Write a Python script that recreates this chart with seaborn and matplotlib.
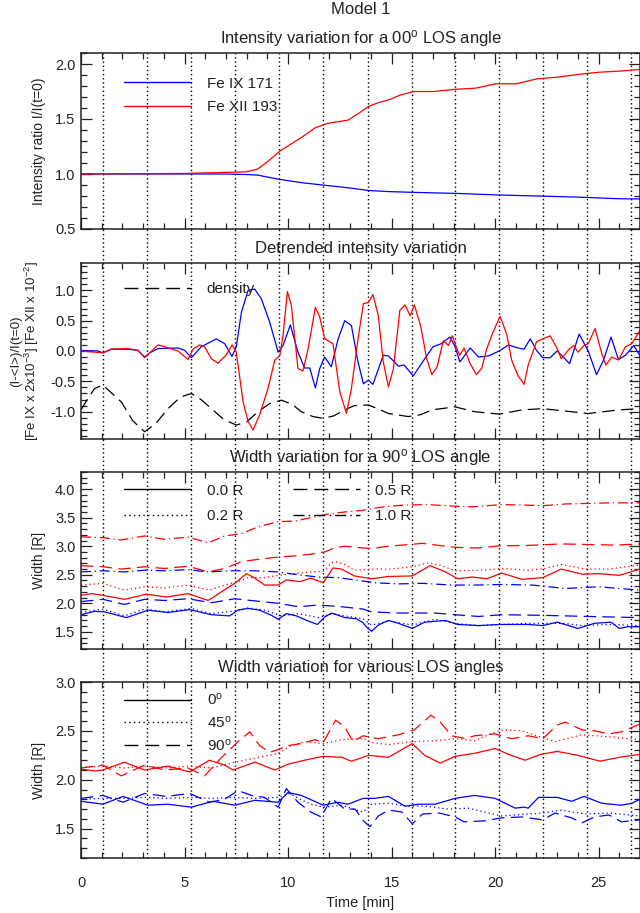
import matplotlib
matplotlib.use("Agg")
import matplotlib.pyplot as plt
from matplotlib.lines import Line2D
from matplotlib.ticker import MultipleLocator, FormatStrFormatter
import seaborn as sns

# ---------------- data (time in minutes) ----------------
grid_t = [1.06, 3.2, 5.33, 7.45, 9.58, 11.71, 13.85, 15.97, 18.07, 20.19, 22.33, 24.46, 26.57]

# Panel 1: intensity ratio
p1_red_t = [0, 5, 7, 8, 8.53, 9.03, 9.62, 10.12, 10.71, 11.31, 11.9, 12.9, 13.4, 13.9, 14.38, 14.88,
            15.38, 16.07, 17.06, 18.06, 19.05, 20.04, 21.03, 22.02, 23.0, 24.0, 25.0, 26.0, 27.0]
p1_red_v = [1.0, 1.005, 1.015, 1.02, 1.045, 1.115, 1.21, 1.27, 1.34, 1.42, 1.46, 1.49, 1.55, 1.615, 1.65, 1.675,
            1.715, 1.75, 1.75, 1.77, 1.78, 1.82, 1.82, 1.865, 1.88, 1.905, 1.925, 1.935, 1.95]
p1_blue_t = [0, 5, 7, 8.0, 8.53, 9.62, 10.71, 11.9, 12.9, 13.9, 14.88, 16.07, 18.06, 20.04, 22.02, 24.0, 26.0, 27.0]
p1_blue_v = [1.0, 1.0, 1.0, 0.995, 0.99, 0.95, 0.92, 0.895, 0.875, 0.85, 0.84, 0.833, 0.824, 0.81, 0.80, 0.79, 0.775, 0.773]

# Panel 2: detrended intensity
p2_blue_t = [0, 0.82, 1.06, 1.47, 2.27, 2.75, 3.07, 3.32, 3.72, 4.69, 5.01, 5.33, 5.81, 6.54, 6.94, 7.29, 7.5,
             7.75, 8.07, 8.39, 8.71, 9.11, 9.52, 9.76, 10.11, 10.48, 10.8, 11.05, 11.32, 11.53, 11.77, 12.09,
             12.42, 12.74, 13.06, 13.38, 13.64, 13.88, 14.1, 14.6, 14.85, 15.33, 15.6, 16.05, 16.6, 17.0, 17.4,
             17.82, 18.07, 18.3, 18.8, 19.2, 19.68, 20.2, 20.65, 21.1, 21.4, 21.7, 22.0, 22.3, 22.66, 23.0,
             23.3, 23.6, 24.06, 24.5, 24.9, 25.24, 25.6, 25.96, 26.3, 26.7, 27.0]
p2_blue_v = [0.01, 0.0, -0.03, 0.03, 0.03, 0.01, -0.1, -0.03, 0.04, 0.05, 0.01, -0.11, 0.07, 0.2, 0.12, -0.09, 0.07,
             0.64, 1.0, 1.02, 0.86, 0.48, -0.02, 0.09, 0.43, -0.02, -0.28, -0.28, -0.61, -0.29, -0.1, -0.26,
             0.2, 0.5, 0.42, -0.18, -0.54, -0.48, -0.55, -0.07, -0.08, -0.25, -0.23, -0.41, -0.13, 0.07, 0.12,
             0.23, 0.07, -0.18, 0.05, -0.1, -0.08, 0.0, 0.1, 0.05, 0.03, 0.2, 0.01, -0.11, -0.11, 0.0,
             -0.1, -0.21, 0.28, 0.0, -0.39, -0.15, 0.23, -0.14, -0.07, 0.09, -0.08]
p2_red_t = [0, 1.06, 1.47, 2.27, 2.75, 3.07, 3.72, 4.04, 4.69, 5.17, 5.41, 5.73, 5.97, 6.3, 6.62, 7.0, 7.3, 7.5,
            7.83, 8.07, 8.31, 8.63, 9.03, 9.36, 9.6, 9.76, 9.97, 10.16, 10.48, 10.72, 10.97, 11.32, 11.53, 11.77,
            12.17, 12.5, 12.82, 13.06, 13.38, 13.64, 13.88, 14.1, 14.36, 14.6, 14.85, 15.09, 15.4, 15.65, 15.9,
            16.1, 16.4, 16.7, 16.95, 17.2, 17.5, 17.75, 17.94, 18.15, 18.3, 18.5, 18.8, 19.1, 19.36, 19.6, 19.9,
            20.24, 20.56, 20.8, 21.1, 21.4, 21.6, 22.0, 22.3, 22.66, 23.0, 23.2, 23.6, 23.8, 24.0, 24.3, 24.5,
            24.83, 25.15, 25.35, 25.64, 25.96, 26.3, 26.6, 27.0]
p2_red_v = [0.0, -0.03, 0.03, 0.04, 0.01, -0.11, 0.1, 0.07, 0.0, -0.14, 0.03, 0.1, 0.07, -0.13, -0.2, -0.07, 0.1, -0.02,
            -0.84, -1.16, -1.3, -1.05, -0.62, -0.15, -0.08, 0.26, 0.98, 0.75, -0.29, -0.33, 0.04, 0.72, 0.56, 0.2,
            0.12, -0.67, -1.03, -0.62, 0.2, 0.78, 0.8, 0.93, 0.58, -0.18, -0.59, -0.29, 0.67, 0.76, 0.58,
            0.76, 0.42, -0.13, -0.39, -0.26, 0.17, 0.09, 0.25, 0.04, -0.07, 0.05, -0.21, -0.39, -0.28, 0.04, 0.31,
            0.57, 0.28, -0.15, -0.4, -0.55, -0.23, 0.15, 0.2, 0.25, 0.04, -0.13, 0.04, 0.09, -0.02, 0.09, 0.12,
            0.37, -0.04, -0.23, -0.1, -0.15, 0.07, 0.12, 0.34]
p2_dens_t = [0, 0.3, 0.65, 1.06, 1.5, 1.95, 2.5, 3.07, 3.6, 4.2, 4.8, 5.33, 5.8, 6.3, 6.9, 7.5, 8.0, 8.55, 9.1,
             9.68, 10.2, 10.64, 11.2, 11.7, 12.2, 12.74, 13.2, 13.88, 14.4, 14.85, 15.8, 16.4, 16.95, 18.07,
             19.0, 20.2, 21.3, 22.3, 23.4, 24.5, 26.0, 27.0]
p2_dens_v = [-0.97, -0.8, -0.62, -0.56, -0.7, -0.84, -1.15, -1.33, -1.2, -0.95, -0.76, -0.7, -0.8, -0.95, -1.13,
             -1.22, -1.17, -1.0, -0.87, -0.81, -0.88, -1.0, -1.08, -1.11, -1.07, -0.97, -0.9, -0.89, -0.96, -1.03,
             -1.08, -1.05, -0.97, -0.92, -1.0, -1.04, -0.97, -0.95, -0.99, -1.03, -0.97, -0.95]

# Panel 3: width for 90 deg LOS, four radii (Fe XII red, Fe IX blue)
p3_red10_t = [0, 1.06, 1.95, 3.07, 4.04, 5.17, 6.14, 6.94, 7.75, 8.55, 9.52, 10.32, 11.1, 11.9, 12.74, 13.62,
              14.04, 14.85, 15.65, 16.7, 18.07, 18.9, 20.32, 21.45, 22.3, 23.4, 24.5, 25.64, 27.0]
p3_red10_v = [3.165, 3.15, 3.11, 3.18, 3.12, 3.16, 3.06, 3.18, 3.22, 3.34, 3.43, 3.44, 3.50, 3.56, 3.60, 3.63,
              3.66, 3.70, 3.72, 3.73, 3.70, 3.69, 3.73, 3.72, 3.71, 3.74, 3.75, 3.76, 3.76]
p3_red05_t = [0, 1.06, 1.95, 3.07, 4.04, 5.17, 6.14, 6.94, 7.75, 8.55, 9.52, 10.32, 11.1, 11.77, 12.25, 12.74,
              13.62, 14.04, 14.85, 16.5, 18.07, 19.2, 20.32, 21.3, 23.2, 24.5, 25.8, 27.0]
p3_red05_v = [2.66, 2.64, 2.60, 2.64, 2.61, 2.65, 2.55, 2.61, 2.73, 2.77, 2.81, 2.83, 2.86, 2.90, 2.97, 3.0,
              2.97, 2.96, 3.0, 3.05, 2.98, 2.97, 3.01, 3.01, 3.04, 3.03, 3.02, 3.04]
p3_red02_t = [0, 1.06, 2.1, 3.07, 4.04, 5.17, 6.2, 6.94, 7.6, 8.07, 8.87, 9.52, 10.3, 11.1, 11.7, 12.1, 12.3,
              12.74, 13.2, 14.2, 15.0, 16.0, 16.8, 17.4, 18.07, 19.4, 20.32, 21.6, 22.4, 23.2, 24.35, 25.5, 27.0]
p3_red02_v = [2.32, 2.35, 2.23, 2.29, 2.27, 2.32, 2.23, 2.32, 2.38, 2.45, 2.45, 2.49, 2.52, 2.55, 2.56, 2.71, 2.73,
              2.68, 2.58, 2.60, 2.60, 2.64, 2.71, 2.66, 2.57, 2.58, 2.61, 2.58, 2.61, 2.68, 2.60, 2.60, 2.67]
p3_red00_t = [0, 0.5, 1.06, 2.1, 3.15, 4.12, 5.17, 6.14, 6.78, 7.42, 8.0, 8.4, 8.87, 9.52, 9.92, 10.56, 11.1,
              11.7, 12.17, 12.58, 13.2, 14.04, 14.85, 16.0, 16.86, 17.6, 18.2, 18.9, 19.6, 20.32, 21.3, 22.3,
              23.2, 24.2, 25.0, 26.0, 27.0]
p3_red00_v = [2.14, 2.17, 2.14, 2.07, 2.16, 2.11, 2.17, 2.05, 2.20, 2.35, 2.52, 2.44, 2.32, 2.32, 2.41, 2.38, 2.44,
              2.36, 2.62, 2.60, 2.48, 2.43, 2.47, 2.48, 2.66, 2.55, 2.43, 2.46, 2.43, 2.53, 2.42, 2.45,
              2.60, 2.51, 2.52, 2.49, 2.60]
p3_blue10_t = [0, 1.06, 2.1, 3.07, 4.04, 5.17, 6.14, 7.26, 8.4, 9.52, 10.5, 11.45, 12.4, 13.62, 14.2, 15.33,
               16.5, 17.9, 19.0, 20.32, 21.8, 23.4, 25.0, 27.0]
p3_blue10_v = [2.55, 2.57, 2.55, 2.58, 2.57, 2.59, 2.55, 2.57, 2.57, 2.55, 2.50, 2.46, 2.45, 2.39, 2.36, 2.34,
               2.35, 2.32, 2.32, 2.33, 2.32, 2.26, 2.29, 2.23]
p3_blue05_t = [0, 1.06, 2.1, 3.07, 4.04, 5.17, 6.3, 7.42, 8.2, 9.52, 10.5, 11.45, 12.58, 13.62, 14.04, 15.33,
               17.1, 18.07, 19.2, 20.32, 22.3, 24.5, 27.0]
p3_blue05_v = [2.03, 2.07, 1.98, 2.07, 2.05, 2.08, 2.01, 2.08, 2.05, 2.0, 1.94, 1.97, 1.94, 1.90, 1.85, 1.83,
               1.83, 1.80, 1.77, 1.80, 1.79, 1.77, 1.75]
p3_blue02_t = [0, 1.06, 2.1, 3.07, 4.04, 5.33, 6.3, 7.26, 8.07, 8.87, 9.68, 10.5, 11.45, 12.17, 12.74, 13.62,
               14.04, 14.85, 16.0, 17.1, 18.07, 19.2, 20.32, 21.6, 23.3, 24.2, 25.5, 27.0]
p3_blue02_v = [1.84, 1.90, 1.78, 1.90, 1.85, 1.91, 1.82, 1.86, 1.92, 1.88, 1.78, 1.82, 1.75, 1.82, 1.78, 1.73,
               1.62, 1.69, 1.62, 1.72, 1.65, 1.61, 1.63, 1.65, 1.65, 1.61, 1.63, 1.61]
p3_blue00_t = [0, 0.66, 1.14, 2.19, 3.24, 4.2, 5.25, 6.3, 7.18, 7.58, 8.07, 8.63, 9.2, 9.52, 9.92, 10.4, 10.97,
               11.42, 11.77, 12.1, 12.74, 13.3, 13.62, 13.8, 14.04, 14.36, 14.85, 15.33, 16.0, 16.6, 17.6, 18.2,
               19.2, 20.2, 21.6, 22.3, 23.0, 24.0, 24.8, 25.6, 26.0, 26.4, 27.0]
p3_blue00_v = [1.80, 1.86, 1.85, 1.75, 1.88, 1.84, 1.89, 1.80, 1.78, 1.88, 1.91, 1.88, 1.79, 1.72, 1.82, 1.78, 1.69,
               1.63, 1.76, 1.83, 1.75, 1.73, 1.66, 1.58, 1.51, 1.62, 1.70, 1.65, 1.56, 1.67, 1.70, 1.63,
               1.61, 1.63, 1.63, 1.61, 1.67, 1.56, 1.65, 1.67, 1.56, 1.59, 1.59]

# Panel 4: width for various LOS angles
p4_red0_t = [0, 0.66, 1.06, 2.1, 3.07, 4.2, 5.25, 6.2, 6.94, 7.34, 8.4, 9.36, 10.0, 10.8, 11.7, 12.6, 13.06, 13.62,
             13.88, 14.85, 16.0, 16.6, 17.35, 18.07, 19.0, 20.0, 20.65, 21.45, 22.2, 23.0, 24.0, 25.07, 26.0, 27.0]
p4_red0_v = [2.11, 2.09, 2.10, 2.18, 2.10, 2.14, 2.08, 2.20, 2.15, 2.10, 2.18, 2.10, 2.16, 2.20, 2.24, 2.23, 2.19, 2.23,
             2.25, 2.23, 2.37, 2.25, 2.17, 2.24, 2.27, 2.32, 2.26, 2.20, 2.26, 2.29, 2.25, 2.19, 2.23, 2.26]
p4_red45_t = [0, 1.06, 2.1, 3.07, 4.2, 5.17, 6.3, 7.42, 8.4, 9.52, 10.16, 10.8, 11.7, 12.58, 13.62, 14.04, 14.85,
              16.0, 17.1, 18.07, 19.0, 20.3, 21.3, 22.3, 22.9, 24.2, 25.5, 27.0]
p4_red45_v = [2.13, 2.14, 2.12, 2.14, 2.12, 2.14, 2.12, 2.18, 2.22, 2.27, 2.35, 2.39, 2.37, 2.41, 2.42, 2.38, 2.36,
              2.39, 2.40, 2.42, 2.40, 2.51, 2.50, 2.43, 2.39, 2.46, 2.44, 2.41]
p4_red90_t = [0, 1.06, 1.95, 3.07, 4.04, 5.17, 5.97, 6.8, 7.58, 8.15, 8.63, 9.11, 9.52, 10.0, 10.64, 11.3, 11.7,
              12.3, 12.74, 13.14, 13.62, 14.36, 15.33, 16.1, 16.9, 17.35, 17.9, 18.6, 19.0, 20.0, 20.8, 21.6, 22.3,
              23.0, 23.4, 24.2, 24.84, 25.5, 26.1, 27.0]
p4_red90_v = [2.12, 2.15, 2.04, 2.15, 2.10, 2.12, 2.04, 2.23, 2.39, 2.49, 2.35, 2.28, 2.31, 2.35, 2.37, 2.41, 2.38,
              2.61, 2.54, 2.39, 2.45, 2.42, 2.46, 2.51, 2.66, 2.59, 2.45, 2.42, 2.45, 2.47, 2.42, 2.45, 2.42,
              2.56, 2.59, 2.51, 2.50, 2.47, 2.49, 2.57]
p4_blue0_t = [0, 1.06, 2.03, 3.24, 4.2, 5.33, 6.38, 7.42, 8.4, 9.52, 10.0, 10.64, 11.7, 12.4, 12.9, 13.62, 14.2,
              14.85, 15.65, 16.3, 17.1, 18.07, 19.0, 20.0, 20.97, 21.4, 21.6, 22.1, 23.0, 23.7, 24.3, 25.15, 26.1,
              26.6, 27.0]
p4_blue0_v = [1.78, 1.75, 1.83, 1.74, 1.75, 1.72, 1.78, 1.74, 1.79, 1.77, 1.87, 1.84, 1.74, 1.77, 1.75, 1.81, 1.81,
              1.83, 1.73, 1.75, 1.75, 1.81, 1.84, 1.81, 1.71, 1.72, 1.71, 1.82, 1.82, 1.78, 1.83, 1.76, 1.74,
              1.76, 1.80]
p4_blue45_t = [0, 1.06, 2.1, 3.07, 4.2, 5.33, 6.3, 7.26, 8.4, 9.52, 10.08, 10.5, 11.1, 11.7, 12.58, 13.62, 14.04,
               14.85, 15.8, 16.6, 17.75, 18.7, 20.3, 21.6, 22.3, 23.2, 24.35, 25.5, 27.0]
p4_blue45_v = [1.80, 1.81, 1.81, 1.82, 1.81, 1.82, 1.81, 1.82, 1.81, 1.82, 1.86, 1.81, 1.75, 1.72, 1.74, 1.67, 1.75,
               1.76, 1.73, 1.73, 1.70, 1.71, 1.63, 1.65, 1.66, 1.69, 1.65, 1.66, 1.63]
p4_blue90_t = [0, 1.06, 2.03, 3.07, 4.12, 5.25, 6.2, 6.94, 7.58, 8.23, 8.87, 9.52, 9.92, 10.48, 11.1, 11.6, 12.1,
               12.74, 13.24, 13.64, 13.96, 14.36, 14.85, 15.5, 16.0, 16.5, 17.3, 18.07, 18.5, 19.5, 20.3, 21.3,
               22.3, 22.9, 23.7, 24.2, 24.8, 25.5, 26.1, 27.0]
p4_blue90_v = [1.81, 1.84, 1.77, 1.86, 1.83, 1.86, 1.77, 1.80, 1.89, 1.84, 1.82, 1.72, 1.91, 1.77, 1.67, 1.62, 1.81,
               1.70, 1.70, 1.58, 1.52, 1.63, 1.69, 1.67, 1.55, 1.65, 1.66, 1.62, 1.57, 1.58, 1.61, 1.62,
               1.59, 1.66, 1.61, 1.56, 1.62, 1.64, 1.57, 1.59]

titles = ["Intensity variation for a 00$^{o}$ LOS angle",
          "Detrended intensity variation",
          "Width variation for a 90$^{o}$ LOS angle",
          "Width variation for various LOS angles"]
ylabels = ["Intensity ratio I/I(t=0)",
           "(I-<I>)/I(t=0)\n[Fe IX x 2x10$^{-3}$] [Fe XII x 10$^{-2}$]",
           "Width [R]", "Width [R]"]
ylims = [(0.5, 2.1), (-1.45, 1.45), (1.2, 4.3), (1.2, 3.0)]

# ---------------- style ----------------
sns.set_style("ticks")
TXT = "#222222"
plt.rcParams.update({
    "font.family": ["Liberation Sans", "DejaVu Sans"],
    "mathtext.default": "regular",
    "axes.unicode_minus": False,
    "text.color": TXT, "axes.labelcolor": TXT,
    "xtick.color": TXT, "ytick.color": TXT, "axes.edgecolor": TXT,
})

RED, BLUE = "#ff0000", "#0000ff"
SOLID = "-"
DOT = (0, (1, 2.4))
DASH = (0, (10, 5))
DASHDOT = (0, (8, 3, 1, 3))
LW = 0.9

W, H = 640, 913
fig = plt.figure(figsize=(W / 100, H / 100), dpi=100)
panels_px = [(53, 229), (263, 439), (472, 649), (682, 858)]
left = 81 / W
axes = [fig.add_axes([left, 1 - b / H, 1 - left, (b - t) / H]) for t, b in panels_px]


def draw(ax, t, v, color, ls):
    sns.lineplot(x=t, y=v, ax=ax, color=color, linewidth=LW, estimator=None, sort=False, linestyle=ls)


draw(axes[0], p1_blue_t, p1_blue_v, BLUE, SOLID)
draw(axes[0], p1_red_t, p1_red_v, RED, SOLID)

draw(axes[1], p2_dens_t, p2_dens_v, "black", DASH)
draw(axes[1], p2_blue_t, p2_blue_v, BLUE, SOLID)
draw(axes[1], p2_red_t, p2_red_v, RED, SOLID)

for (t, v, c, ls) in [(p3_red10_t, p3_red10_v, RED, DASHDOT), (p3_red05_t, p3_red05_v, RED, DASH),
                      (p3_red02_t, p3_red02_v, RED, DOT), (p3_red00_t, p3_red00_v, RED, SOLID),
                      (p3_blue10_t, p3_blue10_v, BLUE, DASHDOT), (p3_blue05_t, p3_blue05_v, BLUE, DASH),
                      (p3_blue02_t, p3_blue02_v, BLUE, DOT), (p3_blue00_t, p3_blue00_v, BLUE, SOLID)]:
    draw(axes[2], t, v, c, ls)

for (t, v, c, ls) in [(p4_red90_t, p4_red90_v, RED, DASH), (p4_red45_t, p4_red45_v, RED, DOT),
                      (p4_red0_t, p4_red0_v, RED, SOLID), (p4_blue90_t, p4_blue90_v, BLUE, DASH),
                      (p4_blue45_t, p4_blue45_v, BLUE, DOT), (p4_blue0_t, p4_blue0_v, BLUE, SOLID)]:
    draw(axes[3], t, v, c, ls)

for i, ax in enumerate(axes):
    ax.set_xlim(0, 27.0)
    ax.set_ylim(*ylims[i])
    ax.xaxis.set_major_locator(MultipleLocator(5))
    ax.xaxis.set_minor_locator(MultipleLocator(1))
    ax.yaxis.set_major_locator(MultipleLocator(0.5))
    ax.yaxis.set_minor_locator(MultipleLocator(0.1))
    ax.yaxis.set_major_formatter(FormatStrFormatter("%.1f"))
    ax.tick_params(which="both", direction="in", top=True, right=True, width=0.9, labelsize=10.5, pad=4)
    ax.tick_params(axis="x", which="both", pad=13)
    ax.tick_params(which="major", length=8)
    ax.tick_params(which="minor", length=4)
    for s in ax.spines.values():
        s.set_linewidth(1.1)
    ax.set_title(titles[i], fontsize=12, pad=7, color=TXT)
    ax.set_ylabel(ylabels[i], fontsize=9.5 if i == 1 else 10, linespacing=1.0)
    ax.yaxis.set_label_coords(-0.072 if i == 1 else -0.062, 0.5)
    if i < 3:
        ax.tick_params(labelbottom=False)
        ax.set_xlabel("")
    # dotted vertical reference lines, continued through the gap above
    ymax = 1.0
    if i > 0:
        gap = panels_px[i][0] - panels_px[i - 1][1]
        ymax = 1.0 + gap / (panels_px[i][1] - panels_px[i][0])
    for g in grid_t:
        ax.axvline(g, ymin=0, ymax=ymax, color="black", lw=1.0, ls=(0, (1, 2)), clip_on=False, zorder=0.8)

axes[3].set_xlabel("Time [min]", fontsize=10.5, labelpad=4)

fig.text(left + (1 - left) / 2, 1 - 10 / H, "Model 1", ha="center", va="center", fontsize=12)


def legend(ax, items, x, y, ncol=1, ls=0.6, cs=3.25):
    handles = [Line2D([0], [0], color=c, lw=1.0, linestyle=st) for c, st, _ in items]
    labels = [lab for _, _, lab in items]
    ax.legend(handles, labels, loc="upper left", bbox_to_anchor=(x, y), frameon=False, fontsize=11,
              handlelength=4.4, handletextpad=1.0, labelspacing=ls, borderpad=0, borderaxespad=0,
              ncol=ncol, columnspacing=cs, labelcolor=TXT)


legend(axes[0], [(BLUE, SOLID, "Fe IX 171"), (RED, SOLID, "Fe XII 193")], 0.077, 0.865, ls=0.6)
legend(axes[1], [("black", DASH, "density")], 0.077, 0.89)
legend(axes[2], [("black", SOLID, "0.0 R"), ("black", DOT, "0.2 R"),
                 ("black", DASH, "0.5 R"), ("black", DASHDOT, "1.0 R")], 0.077, 0.935, ncol=2, ls=0.75)
legend(axes[3], [("black", SOLID, "0$^{o}$"), ("black", DOT, "45$^{o}$"), ("black", DASH, "90$^{o}$")],
       0.077, 0.944, ls=0.45)

fig.savefig("out.png", dpi=100)
